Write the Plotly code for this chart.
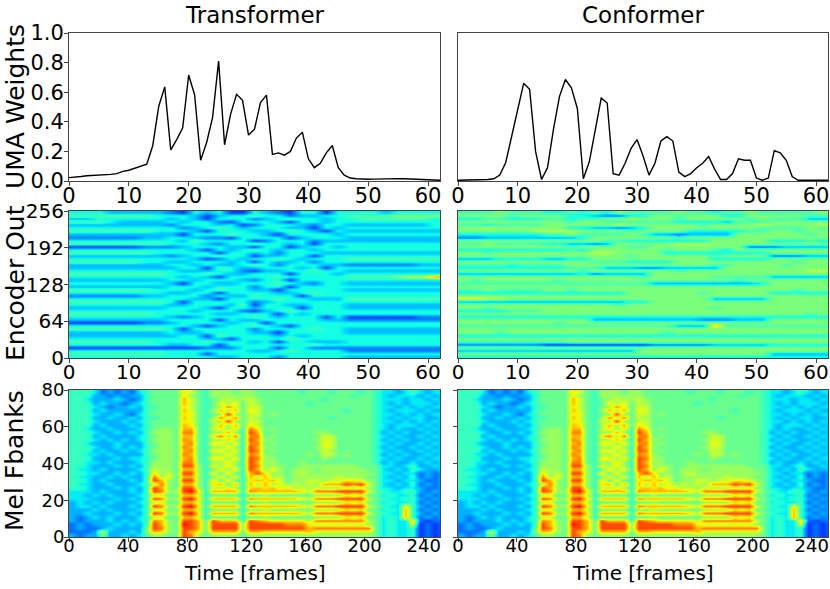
import numpy as np
import plotly.graph_objects as go
from plotly.subplots import make_subplots

# UMA weights per encoder frame
frames = list(range(63))
uma_transformer = [
    0.023, 0.025, 0.03, 0.035, 0.037, 0.04, 0.04, 0.045, 0.05, 0.065,
    0.073, 0.085, 0.10, 0.114, 0.24, 0.505, 0.636, 0.21, 0.28, 0.36,
    0.716, 0.58, 0.14, 0.26, 0.43, 0.81, 0.245, 0.45, 0.586, 0.545,
    0.31, 0.35, 0.53, 0.58, 0.18, 0.19, 0.175, 0.20, 0.29, 0.33,
    0.15, 0.09, 0.12, 0.19, 0.24, 0.09, 0.04, 0.02, 0.015, 0.012,
    0.012, 0.013, 0.015, 0.016, 0.016, 0.016, 0.015, 0.013, 0.01, 0.007,
    0.006, 0.005, 0.005,
]
uma_conformer = [
    0.005, 0.005, 0.005, 0.006, 0.008, 0.01, 0.015, 0.04, 0.125, 0.30,
    0.48, 0.66, 0.62, 0.20, 0.01, 0.09, 0.35, 0.57, 0.686, 0.63,
    0.49, 0.015, 0.13, 0.35, 0.56, 0.527, 0.05, 0.04, 0.12, 0.22,
    0.28, 0.17, 0.04, 0.12, 0.27, 0.30, 0.27, 0.06, 0.03, 0.05,
    0.09, 0.12, 0.166, 0.08, 0.01, 0.01, 0.05, 0.15, 0.14, 0.14,
    0.02, 0.005, 0.02, 0.205, 0.19, 0.14, 0.03, 0.005, 0.005, 0.005,
    0.005, 0.005, 0.005,
]

# encoder outputs, coarse hex levels (0..f -> 0..15/16), rows top -> bottom,
# 48 rows of 256/48 dims, 31 columns of 2 frames
enc_transformer = [
    "66655555 436563365436636 66656666",
    "77777776 665356676645566 77778888",
    "55666666 565366645676656 67777776",
    "77765555 656643666536656 66666666",
    "55555555 466656346665466 55555556",
    "66666666 645676566655365 66666666",
    "77777776 665366655676536 55555555",
    "55555555 536667665366665 66666666",
    "44444455 665443666635666 55555555",
    "66666666 657666634666455 55555555",
    "77777777 666546676656366 66666666",
    "33333344 456665536635665 66666666",
    "66666666 665365676566566 66666666",
    "77777776 666636656466655 55555555",
    "55555555 456676635566366 66666666",
    "66666666 665346566765666 77777777",
    "77777766 556665636556466 66666666",
    "55555555 665655676466655 44444455",
    "55555555 566376556665636 66666666",
    "66666666 655566435566766 55555555",
    "77777777 666765566636665 66666666",
    "66666666 656536666766666 7777899c",
    "55555555 665666546636666 66666666",
    "66666666 536655666765466 55555555",
    "55555555 666566646636666 66666666",
    "77777776 665676655366666 55555555",
    "66666666 556636666556766 66666666",
    "44444455 666465576663666 66666666",
    "66666666 665536666766555 77777777",
    "77777777 636666645666666 66666666",
    "66666666 556665736655666 55555555",
    "55555555 666536656663666 55555555",
    "66666666 665666435676666 66666666",
    "77777776 666655666365666 66666666",
    "66666666 545666676566636 33333344",
    "55555555 666636556666655 44444444",
    "33333344 566665663666666 66666666",
    "66666666 665356676536666 66666666",
    "77777777 636666646666766 55555555",
    "55555555 655666655366666 55555555",
    "55555555 566376666565666 66666666",
    "66666666 666553666676666 66666666",
    "77777776 666766656366555 66666666",
    "66666666 556636666666766 66666666",
    "33333333 333444666366444 44444444",
    "66666666 666666655676666 44444444",
    "77777777 666366666666666 66666666",
    "66666666 666655666466666 55555555",
]
enc_conformer = [
    "7778777 6676 76877 7787767787 77778",
    "8888788 8866 54466 8878886688 88877",
    "6677666 7767 78898 8878888878 77755",
    "8888888 8878 87777 7766665777 88888",
    "7767777 8888 88988 8888788889 88889",
    "8898888 8866 55456 8888888887 77787",
    "8888889 9998 88878 8886666677 88788",
    "6666666 7787 77787 5545555888 88878",
    "4455555 5556 88888 8878888888 88888",
    "8888888 8888 87766 6666688888 66676",
    "7787777 6655 45888 8899988888 88888",
    "8888888 8878 88877 8888888844 45555",
    "6666666 6676 88888 8788876888 88888",
    "8878888 8888 99888 8666666666 88888",
    "8888888 8888 88878 8888878888 44455",
    "5556666 5566 88888 8888866666 88888",
    "8888888 8888 77766 6688888888 88788",
    "7777677 7788 88888 8888877888 87888",
    "6666666 6677 75554 4555558888 88888",
    "8888888 8887 88888 8878888888 88899",
    "5555555 5556 45555 8888888888 88888",
    "8888888 8888 88887 8888877777 55555",
    "8788888 8788 88888 8888888788 88888",
    "7777777 7777 77777 5555555556 88888",
    "8888888 8888 88888 8888888888 88888",
    "7787777 8878 88888 8888888888 88788",
    "6666666 6666 66688 8888788888 66666",
    "8888888 8888 88888 8888888888 88888",
    "aa99888 8888 88888 8888855555 88888",
    "5555555 5555 55566 8888888888 88888",
    "8888888 8888 88788 8888888888 88888",
    "8878888 8888 88888 8888878888 88888",
    "6666777 8888 88888 8888888888 88888",
    "8888888 8888 88888 8888888888 88878",
    "6666666 6666 66666 6666666666 66666",
    "8888888 8888 55555 5555444555 88888",
    "8888888 8788 88888 8888888888 88888",
    "7777777 7777 77777 77555b7777 77777",
    "8888888 8888 88888 8888888888 88888",
    "8887888 8888 88888 8788888888 88888",
    "6666666 6666 66666 6666666666 66666",
    "8888888 8888 88888 8888888888 88888",
    "7777777 7788 88888 8888888888 88888",
    "4444444 3333 33333 4444455555 66666",
    "8888888 8888 88888 8888888888 88888",
    "5555555 5555 55558 8888888888 88888",
    "8888888 8888 88888 8888888888 55555",
    "6666666 6666 66666 6666666666 66666",
]

# mel filterbank input, 40 rows of 2 bins (top -> bottom), 51 columns of 5 frames
mel_fbanks = [
    "7776454546 78888ba879 9989988888 8788878887 87665676566",
    "7775545455 78888b9879 9999988888 8888888878 87656665656",
    "7765556545 78888ca878 9a99a98888 8888788888 87666566565",
    "7775655456 78888ca878 b9b8a98888 8878888888 87656566656",
    "7776545565 77888ba878 9da8aa8888 8888888888 87665656566",
    "7775655555 78888ca879 c9c8ba8888 8888888788 87656665655",
    "7776556546 78888bb878 9e98aa8988 8888888888 87665656566",
    "7775565565 77888ca879 d9d8a98888 8888878888 87656566556",
    "7776555656 78888bb87a 9e98aa8888 8888888888 87665656565",
    "7775655565 78888cb879 c9c8ba8888 8888888888 87656665656",
    "7765565556 78998cc87a b9b7db8988 8888888888 87656556565",
    "7776556565 79998dd879 9c97ec8888 8889988888 87565655656",
    "7775655556 78998cc87b d9d7dd8988 8888aa8888 87656556565",
    "7776565656 79998dc879 9c97ec9888 8889aa8888 87565655656",
    "7765556555 78998cd87b b9b7dd8988 8888ba8888 87656556565",
    "7776556565 78998dc879 9b97ec9888 8889aa8888 87565565656",
    "7775655656 79998cd87b b9b7ed8988 8888a98888 87656556565",
    "7766565555 78998dc879 9b97dc9888 8898aa8988 87565655656",
    "7775556566 78998cd87b b9b7ed9988 8888988888 87656556566",
    "7766565556 79998dd879 9b97ec9988 8988888888 87565565656",
    "7765556565 79998ee97b 9b97ed9998 8999999998 88665675565",
    "7665655556 7a998cc978 b9b7ec9b98 9998999999 88656576556",
    "7766556565 7b9a8ee97b 8b87ceb998 9a99999999 98665664545",
    "7665565655 7d9b8cc978 b8b7c9c9a8 999999a999 88656574545",
    "7765655565 7ec98ee97b 8b87bcbca8 99aa9aabba 98665665445",
    "7665565556 7ad98cc97b c8c7c9c9b9 a9a9cccede a8656574545",
    "7765556565 7ec98ee97a 9b97bcbcab 9a9a999a9a 98665665445",
    "6665655565 7ed99efb7c ccc7dccccc cbadddeeee a8766775454",
    "6656565556 7aa88cca78 8887889888 8889999bab 88676674545",
    "6665556565 7ed99efb7c ccc7dccccc cbadddeeee a8766775454",
    "5656565556 7aa88cca78 8887889888 8889999bab 88676674545",
    "5665655565 7ed99efb7c ccc7dccccc cbadddeeee a8766b75454",
    "5556565556 7aa88cca78 8887889888 8889999bab 88676c74545",
    "5565556565 7ed99efb7c ccc7dccccc cbadddeeee a8766c75454",
    "5456565556 7aa88cca78 8887889888 8889999bab 88676c74545",
    "5455565656 7dc98eec8e ccc7edcbbb bbaddddddd a86766c4344",
    "4545556565 7ec98fec8e eee9eeeeed ddbaaaaaaa 986766a3434",
    "4544565555 8ed98eec8e eee9eeeeee eecddddddd d8676673434",
    "4445a55565 9cb98ecb8c ccc8ccbbbb bbcaaaaaaa a8676673434",
    "5455855656 79988ed989 9998999999 9999999999 98676673434",
]


def parse(rows):
    grid = np.array([[int(c, 16) / 16 for c in r.replace(" ", "")] for r in rows])
    return grid[::-1]


# matplotlib "jet"
def jet_scale(n=41):
    red = ([0, 0.35, 0.66, 0.89, 1], [0, 0, 1, 1, 0.5])
    green = ([0, 0.125, 0.375, 0.64, 0.91, 1], [0, 0, 1, 1, 0, 0])
    blue = ([0, 0.11, 0.34, 0.65, 1], [0.5, 1, 1, 0, 0])
    out = []
    for v in np.linspace(0, 1, n):
        r, g, b = (np.interp(v, *ch) * 255 for ch in (red, green, blue))
        out.append([float(v), f"rgb({r:.0f},{g:.0f},{b:.0f})"])
    return out


JET = jet_scale()

fig = make_subplots(rows=3, cols=2)

for col, uma in ((1, uma_transformer), (2, uma_conformer)):
    fig.add_trace(
        go.Scatter(x=frames, y=uma, mode="lines", line=dict(color="black", width=1.4)),
        row=1, col=col,
    )

for col, enc in ((1, enc_transformer), (2, enc_conformer)):
    fig.add_trace(
        go.Heatmap(z=parse(enc), x0=1, dx=2, y0=256 / 96, dy=256 / 48,
                   colorscale=JET, zmin=0, zmax=1, zsmooth="best", showscale=False),
        row=2, col=col,
    )

for col in (1, 2):
    fig.add_trace(
        go.Heatmap(z=parse(mel_fbanks), x0=2.5, dx=5, y0=1, dy=2,
                   colorscale=JET, zmin=0, zmax=1.05, zsmooth="best", showscale=False),
        row=3, col=col,
    )

FONT = "DejaVu Sans"
xdom = [[69 / 830, 440 / 830], [458 / 830, 828 / 830]]
ydom = [[1 - 181 / 589, 1 - 33 / 589], [1 - 358 / 589, 1 - 211 / 589], [1 - 537 / 589, 1 - 390 / 589]]
tick_sizes = [21, 20, 18]
x_standoff = [-8, -8, -12]

ax = dict(showline=True, mirror=True, linecolor="#444", linewidth=1, ticks="outside",
          ticklen=4, tickcolor="#444", showgrid=False, zeroline=False, automargin=False)

for r in range(3):
    for c in range(2):
        tf = dict(family=FONT, size=tick_sizes[r], color="black")
        fig.update_xaxes(ax, domain=xdom[c], tickfont=tf, ticklabelstandoff=x_standoff[r],
                         row=r + 1, col=c + 1)
        fig.update_yaxes(ax, domain=ydom[r], tickfont=tf, showticklabels=(c == 0),
                         ticklabelstandoff=-4, row=r + 1, col=c + 1)
        if r == 0:
            fig.update_xaxes(range=[0, 62], tickvals=[0, 10, 20, 30, 40, 50, 60], row=1, col=c + 1)
            fig.update_yaxes(range=[0, 1], tickvals=[0, 0.2, 0.4, 0.6, 0.8, 1.0], tickformat=".1f",
                             row=1, col=c + 1)
        elif r == 1:
            fig.update_xaxes(range=[0, 62], tickvals=[0, 10, 20, 30, 40, 50, 60], row=2, col=c + 1)
            fig.update_yaxes(range=[0, 256], tickvals=[0, 64, 128, 192, 256], row=2, col=c + 1)
        else:
            fig.update_xaxes(range=[0, 251], tickvals=[0, 40, 80, 120, 160, 200, 240], row=3, col=c + 1)
            fig.update_yaxes(range=[0, 80], tickvals=[0, 20, 40, 60, 80], row=3, col=c + 1)
        if c == 1 and r < 2:
            fig.update_yaxes(ticks="", row=r + 1, col=2)

notes = [
    dict(text="Transformer", x=254.5 / 830, y=1 - 15 / 589, size=23, angle=0),
    dict(text="Conformer", x=643 / 830, y=1 - 15 / 589, size=23, angle=0),
    dict(text="UMA Weights", x=15 / 830, y=1 - 107 / 589, size=25, angle=-90),
    dict(text="Encoder Out", x=15 / 830, y=1 - 283 / 589, size=25, angle=-90),
    dict(text="Mel Fbanks", x=15 / 830, y=1 - 461 / 589, size=25, angle=-90),
    dict(text="Time [frames]", x=254.5 / 830, y=1 - 573 / 589, size=20, angle=0),
    dict(text="Time [frames]", x=643 / 830, y=1 - 573 / 589, size=20, angle=0),
]
for a in notes:
    fig.add_annotation(
        text=a["text"], x=a["x"], y=a["y"], xref="paper", yref="paper",
        xanchor="center", yanchor="middle", showarrow=False, textangle=a["angle"],
        font=dict(family=FONT, size=a["size"], color="black"),
    )

fig.update_layout(
    width=830,
    height=589,
    template="none",
    showlegend=False,
    paper_bgcolor="white",
    plot_bgcolor="white",
    margin=dict(l=0, r=0, t=0, b=0),
    font=dict(family=FONT, color="black"),
)

# the page body has a default 8px margin; drop it so the figure fills the window
fig.write_html("out.html", config={"displayModeBar": False},
               post_script="document.body.style.margin='0';")
